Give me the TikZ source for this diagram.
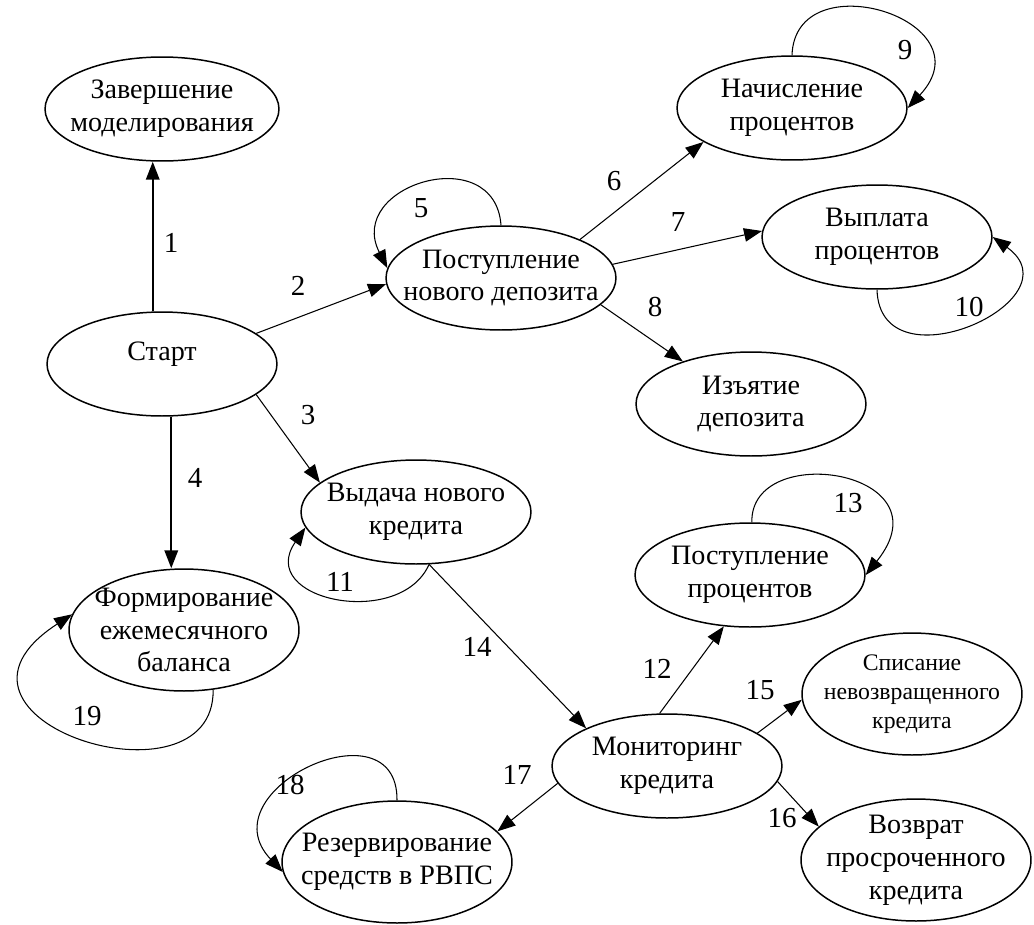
\documentclass[tikz,border=0pt]{standalone}
\usepackage{fontspec}
\setmainfont{Liberation Serif}
\usetikzlibrary{arrows.meta, shapes.geometric}

\begin{document}
\begin{tikzpicture}[
    x=0.02cm, y=-0.02cm,
    state/.style={ellipse, draw, line width=0.85pt, inner xsep=-0.8cm, inner ysep=-0.4cm, minimum width=4.6cm, minimum height=2.08cm, align=center, font=\fontsize{16}{18.7}\selectfont},
    tall/.style={minimum height=2.44cm},
    arr/.style={-{Triangle[length=0.36cm, width=0.27cm]}, line width=0.6pt},
    thickarr/.style={arr, line width=1.1pt},
    lbl/.style={font=\fontsize{16.5}{18}\selectfont, inner sep=0pt},
]
\useasboundingbox (0,0) rectangle (1034,924);

% === States ===
\node[state, minimum width=4.68cm] (finish) at (162,109) {Завершение\\моделирования};
\node[state] (start) at (162,364) {\raisebox{0.2cm}[\height][\depth]{Старт}};
\node[state] (deposit) at (501,278) {Поступление\\нового депозита};
\node[state] (accrual) at (792,108) {Начисление\\процентов};
\node[state] (payout) at (877,237) {Выплата\\процентов};
\node[state] (withdraw) at (751,404) {Изъятие\\депозита};
\node[state] (loan) at (416,512) {Выдача нового\\кредита};
\node[state, tall] (balance) at (184,630) {Формирование\\ежемесячного\\баланса};
\node[state] (income) at (750,575) {Поступление\\процентов};
\node[state, tall, minimum width=4.4cm, font=\fontsize{13.5}{16.5}\selectfont] (writeoff) at (912,694) {Списание\\невозвращенного\\кредита};
\node[state] (monitor) at (667,766) {Мониторинг\\кредита};
\node[state, tall] (overdue) at (916,860) {Возврат\\просроченного\\кредита};
\node[state, tall] (reserve) at (397,862) {Резервирование\\средств в РВПС};

% === Transitions ===
\draw[thickarr] (start.100) -- (start.100 |- finish.south);
\draw[thickarr] (start.280) -- (start.280 |- balance.north);
\draw[arr] (start.18) -- (deposit.183);
\draw[arr] (start.342) -- (loan.163);
\draw[arr] (deposit.26) -- (accrual.201);
\draw[arr] (deposit.7) -- (payout.177);
\draw[arr] (deposit.345) -- (withdraw.148);
\draw[arr] (loan.284) -- (monitor.155);
\draw[arr] (monitor.98) -- (income.243);
\draw[arr] (monitor.20) -- (writeoff.183);
\draw[arr] (monitor.352) -- (overdue.161);
\draw[arr] (monitor.189) -- (reserve.17);

% === Loops ===
\draw[arr] (deposit.90) .. controls (495,140) and (345,185) .. (deposit.175);
\draw[arr] (accrual.90) .. controls (795,-40) and (990,20) .. (accrual.0);
\draw[arr] (payout.270) .. controls (880,390) and (1080,300) .. (payout.0);
\draw[arr] (loan.284) .. controls (400,630) and (255,600) .. (loan.188);
\draw[arr] (income.88) .. controls (750,440) and (950,470) .. (income.0);
\draw[arr] (reserve.90) .. controls (398,700) and (205,790) .. (reserve.185);
\draw[arr] (balance.296) .. controls (215,815) and (-90,720) .. (balance.172);

% === Labels ===
\node[lbl] (l1) at (171,243) {1};
\node[lbl] (l2) at (298,286) {2};
\node[lbl] (l3) at (308,415) {3};
\node[lbl] (l4) at (195,478) {4};
\node[lbl] (l5) at (421,208) {5};
\node[lbl] (l6) at (614,181) {6};
\node[lbl] (l7) at (678,222) {7};
\node[lbl] (l8) at (655,307) {8};
\node[lbl] (l9) at (905,50) {9};
\node[lbl] (l10) at (969,307) {10};
\node[lbl] (l11) at (340,582) {11};
\node[lbl] (l12) at (657,669) {12};
\node[lbl] (l13) at (848,503) {13};
\node[lbl] (l14) at (477,647) {14};
\node[lbl] (l15) at (760,690) {15};
\node[lbl] (l16) at (782,818) {16};
\node[lbl] (l17) at (517,775) {17};
\node[lbl] (l18) at (290,785) {18};
\node[lbl] (l19) at (87,716) {19};

\end{tikzpicture}
\end{document}
